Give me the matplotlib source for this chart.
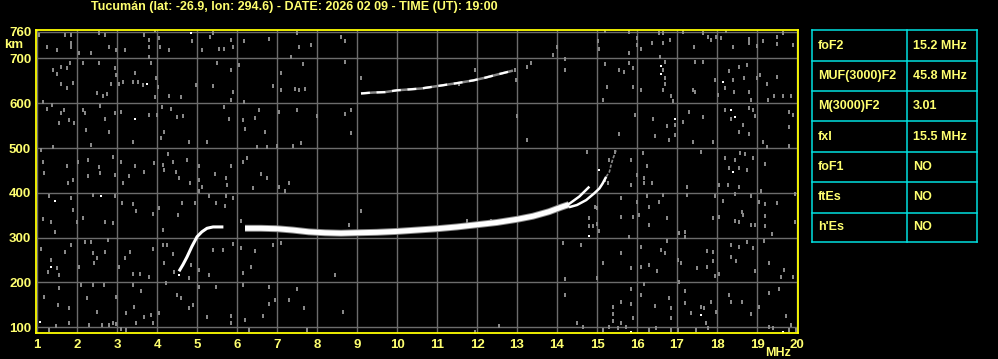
import matplotlib
matplotlib.use('Agg')
import matplotlib.pyplot as plt
from matplotlib import font_manager

names = {f.name for f in font_manager.fontManager.ttflist}
FONT = 'Liberation Sans Narrow' if 'Liberation Sans Narrow' in names else 'Liberation Sans'

# ---------------- data ----------------
title = "Tucumán (lat: -26.9, lon: 294.6) - DATE: 2026 02 09 - TIME (UT): 19:00"
freq_ticks = list(range(1, 21))
height_ticks = [100, 200, 300, 400, 500, 600, 700, 760]

# F2 trace - lower rising part
rise_f = [4.55, 4.65, 4.75, 4.87, 5.0, 5.12, 5.25, 5.4, 5.66]
rise_h = [225, 240, 257, 280, 302, 313, 321, 324, 324]

# F2 trace - main band
band_f = [6.2, 6.6, 7.0, 7.4, 7.8, 8.2, 8.6, 9.0, 9.5, 10.0, 10.5, 11.0, 11.5,
          12.0, 12.5, 13.0, 13.4, 13.8, 14.1, 14.3]
band_h = [321, 321, 320, 317, 313, 311, 310, 311, 312, 314, 317, 320, 324,
          329, 334, 341, 348, 358, 368, 374]

# upper (ordinary) branch near the critical frequency
obr_f = [14.25, 14.56, 14.81]
obr_h = [372, 392, 414]

# lower (extraordinary) branch
xbr_f = [14.3, 14.5, 14.73, 14.93, 15.06, 15.14, 15.23]
xbr_h = [368, 373, 384, 399, 410, 421, 436]

# faint tail of the extraordinary branch
tail_f = [15.23, 15.31, 15.35, 15.39, 15.48]
tail_h = [436, 447, 462, 474, 496]

# second-hop trace
hop2_f = [9.1, 9.4, 9.7, 10.0, 10.3, 10.6, 10.9, 11.2, 11.5, 11.9, 12.2, 12.5, 12.9]
hop2_h = [622, 624, 625, 629, 631, 633, 637, 641, 645, 651, 657, 664, 673]

# background noise (gray dots)
noise_f = [
    1.04, 1.25, 1.49, 1.7, 1.85, 1.85, 1.85, 2.06, 2.35, 2.54, 2.7, 2.79, 2.98, 3.2, 3.68, 3.79, 3.79, 3.81,
    3.95, 4.06, 4.08, 4.31, 4.87, 5.12, 5.33, 5.39, 5.56, 5.68, 5.85, 5.89,
    1.39, 1.49, 1.6, 1.75, 1.83, 1.89, 1.6, 1.74, 2.14, 2.5, 2.54, 2.64, 2.74, 2.85, 2.95, 2.98, 3.04, 3.16,
    3.39, 3.46, 3.52, 3.66, 3.85, 3.95, 3.98, 4.03, 4.31, 4.6, 4.98, 5.39, 5.5, 5.85, 5.89, 5.85,
    1.14, 1.24, 1.38, 1.6, 1.56, 1.68, 1.81, 1.93, 2.14, 2.2, 2.23, 2.35, 2.58, 2.7, 2.79, 2.96, 3.1, 3.39,
    3.81, 4.0, 4.13, 4.35, 4.18, 4.1, 4.49, 4.64, 4.81, 5.25, 5.68, 5.79,
    1.1, 1.14, 1.18, 1.41, 1.75, 1.77, 1.89, 2.02, 2.27, 2.27, 2.56, 2.58, 2.89, 2.95, 3.1, 3.16, 3.31, 3.46,
    3.68, 3.93, 4.14, 4.18, 4.39, 4.27, 4.48, 4.56, 4.74, 4.83, 5.04, 5.06, 5.12, 5.45, 5.73, 5.75, 5.85,
    1.29, 1.14, 1.35, 1.45, 1.85, 1.91, 1.99, 2.14, 2.39, 2.71, 2.89, 2.96, 3.13, 3.39, 3.48, 3.89, 4.04, 4.14,
    4.53, 4.62, 4.95, 5.04, 5.31, 5.48, 5.71, 5.73, 5.89,
    1.1, 1.35, 1.27, 1.49, 1.56, 1.7, 1.85, 2.04, 2.2, 2.35, 2.41, 2.43, 2.49, 2.7, 2.77, 3.06, 3.2, 3.33,
    3.39, 3.58, 3.81, 3.89, 4.14, 4.24, 4.17, 4.39, 4.43, 4.85, 4.81, 5.06, 5.29, 5.41, 5.64, 5.89,
    1.18, 1.54, 1.52, 1.79, 2.1, 2.24, 2.39, 2.5, 2.68, 2.89, 2.98, 3.23, 3.39, 3.43, 3.6, 3.68, 3.85, 3.89,
    4.06, 4.22, 4.5, 4.6, 4.81, 4.89, 5.06, 5.25, 5.48, 5.85, 5.85, 1.31, 1.48, 1.81, 2.31, 2.62, 2.79, 2.98,
    3.1, 3.23, 3.48,
    6.18, 6.79, 7.49, 7.54, 7.85, 7.35, 8.6, 8.7, 8.7, 6.06, 7.64, 7.1, 6.89, 7.1, 7.45, 7.56, 7.7, 9.1,
    6.18, 6.54, 7.04, 7.49, 8.7, 8.85, 8.0, 6.14, 6.45, 6.2, 6.7, 8.85, 7.6, 6.99, 7.39, 6.5, 6.75, 6.25,
    6.14, 6.6, 6.74, 7.31, 7.04, 6.39, 7.2, 9.1, 8.79, 6.1, 6.89, 6.45, 6.1, 7.1, 6.35, 6.14, 8.45, 6.14,
    6.79, 7.5, 6.95, 7.29, 6.79, 7.68, 8.64, 6.64, 6.2, 6.29, 7.74,
    15.2, 15.03, 15.06, 13.99, 13.89, 14.2, 15.2, 15.25, 15.14, 13.35, 13.24, 12.95, 12.97, 14.2, 11.95, 11.54,
    12.99, 13.24, 14.74, 15.45, 15.31, 15.2, 15.28, 11.74, 12.35, 14.94, 14.99, 14.79, 14.79, 14.89, 15.04,
    15.0, 14.14, 14.6, 15.14, 15.0, 14.2, 14.2, 14.5, 14.64, 15.14, 15.31, 15.39, 15.39, 15.39, 12.54, 11.95,
    15.81, 16.0, 16.0, 16.38, 16.54, 16.64, 16.64, 16.82, 17.14, 17.43, 17.64, 17.77, 17.85, 17.98, 18.1,
    18.23, 18.39, 18.81, 18.81, 18.99, 19.14, 19.5, 19.5, 19.64, 19.89, 15.81, 16.1, 16.58, 16.7,
    15.56, 15.68, 15.81, 15.89, 15.89, 16.1, 16.64, 16.7, 16.7, 16.64, 16.85, 16.91, 17.45, 17.64, 17.39,
    17.45, 17.95, 18.02, 18.31, 18.2, 18.39, 18.42, 18.56, 18.68, 18.74, 18.79, 18.85, 18.99, 19.08, 19.25,
    19.27, 19.5, 19.64, 19.85, 19.43,
    15.95, 16.39, 16.74, 16.96, 17.14, 16.46, 16.79, 16.96, 17.31, 17.39, 17.64, 17.89, 18.2, 18.35, 18.64,
    18.54, 18.79, 18.81, 18.89, 18.96, 19.14, 19.79, 19.89, 19.79, 19.79, 15.54,
    15.85, 16.14, 16.25, 16.18, 16.18, 16.38, 15.85, 15.99, 17.25, 17.6, 18.21, 18.45, 18.58, 18.7, 18.89,
    18.31, 18.56, 18.74, 18.06, 18.27, 18.54, 19.2, 19.1, 19.25,
    15.6, 16.0, 16.25, 16.64, 16.54, 16.29, 17.25, 17.96, 18.14, 18.45, 18.85, 19.06, 19.2, 19.5, 19.95,
    15.6, 15.89, 16.06, 16.29, 16.74, 17.06, 17.2, 17.2, 17.89, 18.04, 18.46, 18.54, 18.63, 18.66, 18.85,
    18.96, 19.2, 19.2, 19.38, 19.95,
    15.79, 16.1, 16.6, 16.7, 16.74, 15.6, 15.85, 16.1, 16.29, 16.5, 17.03, 17.1, 17.5, 17.74, 17.74, 17.89,
    17.89, 17.95, 18.06, 18.35, 18.35, 18.48, 18.56, 18.74, 18.89, 18.96, 19.18, 19.31, 19.6, 19.68, 19.89,
    15.85, 16.18, 16.1, 15.85, 15.6, 16.46, 16.81, 16.85, 16.85, 17.06, 17.2, 17.2, 17.35, 17.6, 17.68,
    17.72, 17.85, 17.98, 18.31, 18.35, 18.63, 18.85, 19.06, 19.29, 19.54, 19.72, 19.85, 15.89, 15.6,
    15.52, 15.73, 16.31, 16.48, 16.85, 17.02, 17.48, 17.77, 19.31, 19.39, 19.8, 19.98,
]
noise_h = [
    753, 725, 718, 753, 753, 734, 726, 713, 713, 758, 753, 726, 718, 718, 753, 741, 726, 704,
    763, 745, 725, 718, 740, 718, 749, 758, 721, 721, 741, 726,
    674, 665, 682, 678, 691, 645, 643, 635, 689, 624, 691, 617, 621, 643, 678, 663, 643, 648,
    648, 667, 648, 641, 689, 615, 656, 636, 617, 615, 641, 639, 689, 674, 626, 607,
    604, 587, 596, 578, 555, 585, 563, 555, 585, 578, 540, 507, 594, 566, 537, 578, 580, 514,
    574, 574, 592, 587, 537, 522, 569, 572, 514, 514, 591, 566,
    496, 470, 444, 502, 459, 421, 429, 470, 473, 438, 457, 444, 481, 440, 470, 421, 438, 459,
    447, 467, 462, 451, 470, 487, 447, 433, 473, 421, 460, 429, 414, 442, 433, 418, 459,
    392, 342, 334, 312, 388, 362, 334, 343, 395, 334, 332, 394, 377, 375, 360, 354, 366, 317,
    351, 377, 377, 405, 394, 377, 371, 394, 388,
    275, 250, 224, 232, 217, 269, 284, 235, 290, 290, 265, 243, 254, 267, 295, 235, 254, 269,
    220, 220, 213, 275, 284, 284, 243, 264, 224, 239, 209, 229, 217, 273, 273, 287,
    168, 187, 150, 142, 194, 165, 194, 135, 194, 109, 168, 131, 194, 146, 180, 124, 127, 109,
    131, 198, 172, 165, 142, 150, 191, 122, 191, 125, 109, 94, 103, 109, 105, 105, 105, 107,
    96, 94, 109,
    740, 744, 758, 726, 730, 704, 749, 740, 693, 685, 687, 667, 639, 630, 632, 630, 632, 657,
    604, 585, 581, 585, 576, 585, 572, 563, 567, 543, 537, 534, 512, 505, 505, 502, 502, 479,
    470, 442, 433, 423, 414, 410, 404, 360, 328, 337, 284, 270, 276, 289, 235, 222, 217, 194,
    191, 185, 162, 162, 152, 144, 134, 125, 116, 94, 94,
    761, 738, 721, 726, 708, 698, 688, 637, 607, 691, 680, 674, 652, 674, 674, 643,
    572, 518, 492, 492, 474, 429, 421, 337, 337, 369, 366, 343, 326, 325, 315,
    330, 289, 284, 244, 209, 207, 172, 110, 100, 95, 101, 146, 130, 113, 104, 90,
    760, 745, 730, 734, 758, 734, 756, 741, 760, 726, 758, 749, 741, 749, 745,
    761, 726, 743, 734, 728, 739, 749, 732, 758, 730, 713, 721, 704, 693,
    674, 670, 689, 678, 637, 630, 674, 656, 643, 630, 616, 605, 693, 693, 630,
    626, 652, 619, 671, 634, 652, 626, 680, 657, 685, 626, 607, 656, 663, 643,
    607, 659, 617, 617, 617,
    574, 566, 549, 552, 559, 527, 518, 529, 581, 514, 569, 514, 585, 564, 552,
    537, 531, 589, 585, 572, 514, 581, 574, 546, 505, 532,
    473, 488, 460, 433, 421, 421, 418, 440, 414, 492, 479, 473, 488, 487, 479,
    456, 456, 451, 418, 418, 414, 464, 404, 503,
    389, 380, 393, 395, 380, 369, 395, 392, 382, 397, 392, 380, 375, 378, 397,
    347, 347, 351, 328, 343, 311, 313, 302, 343, 347, 337, 334, 358, 351, 328,
    328, 349, 325, 308, 334,
    302, 280, 272, 265, 293, 266, 232, 235, 239, 226, 250, 243, 232, 271, 234, 269,
    247, 214, 220, 284, 258, 248, 280, 290, 276, 226, 293, 244, 213, 229, 213,
    185, 197, 172, 152, 157, 148, 165, 142, 120, 201, 180, 154, 131, 146, 142,
    109, 157, 135, 172, 157, 157, 130, 146, 176, 185, 125, 105, 120, 109,
    98, 101, 94, 98, 94, 94, 94, 98, 101, 98, 95, 94,
]

# brighter (white) noise dots
spark_f = [4.85, 3.75, 3.45, 1.45, 2.6, 1.35, 4.56, 1.08, 15.04, 14.81, 16.6, 16.6,
           18.14, 16.96, 18.35, 18.45, 18.39, 17.6, 15.85, 19.64]
spark_h = [758, 643, 565, 383, 392, 235, 217, 111, 451, 304, 684, 666,
           648, 566, 585, 570, 447, 127, 90, 90]

# parameter table
param_names = ["foF2", "MUF(3000)F2", "M(3000)F2", "fxI", "foF1", "ftEs", "h'Es"]
param_values = ["15.2 MHz", "45.8 MHz", "3.01", "15.5 MHz", "NO", "NO", "NO"]

# ---------------- styling ----------------
W, H = 998, 359
BG = 'black'
YEL = '#ffff00'
TXT = '#ffff70'
GRID = '#6c6c6c'
NOISE = '#888888'
CYAN = '#00e0e0'
FS = 9.0

# small vertical streak marker used for the noise
STREAK = [(-0.3, -1.0), (0.3, -1.0), (0.3, 1.0), (-0.3, 1.0), (-0.3, -1.0)]


def fx(x):
    return x / W


def fy(y):
    return 1 - y / H


fig = plt.figure(figsize=(W / 100, H / 100), dpi=100, facecolor=BG)
ax = fig.add_axes([fx(36), fy(333.3), (798 - 36) / W, (333.3 - 30) / H])
ax.set_facecolor(BG)
ax.set_xlim(0.975, 20.025)
ax.set_ylim(86.6, 763.6)

ax.set_xticks(freq_ticks)
ax.set_xticklabels([str(t) for t in freq_ticks])
ax.set_yticks(height_ticks)
ax.set_yticklabels([str(t) for t in height_ticks])
ax.tick_params(axis='both', length=0, colors=TXT, labelsize=FS + 0.5)
ax.tick_params(axis='x', pad=4)
ax.tick_params(axis='y', pad=3.5)
for lab in ax.get_xticklabels() + ax.get_yticklabels():
    lab.set_fontfamily(FONT)
    lab.set_fontweight('bold')
    lab.set_color(TXT)

ax.grid(True, color=GRID, linewidth=1.0, zorder=0)
ax.set_axisbelow(True)
for sp in ax.spines.values():
    sp.set_color(YEL)
    sp.set_linewidth(1.3)
    sp.set_zorder(6)

# noise
ax.plot(noise_f, noise_h, linestyle='none', marker=STREAK, markersize=2.6,
        markerfacecolor=NOISE, markeredgewidth=0, zorder=1)
ax.plot(spark_f, spark_h, linestyle='none', marker='s', markersize=1.5,
        markerfacecolor='white', markeredgewidth=0, zorder=1.5)

# traces
ax.plot(rise_f, rise_h, color='white', lw=2.2, solid_capstyle='butt', zorder=3)
ax.plot(band_f, band_h, color=NOISE, lw=5.0, solid_capstyle='butt', zorder=2.5)
ax.plot(band_f, band_h, color='white', lw=3.6, solid_capstyle='butt', zorder=3)
ax.plot(obr_f, obr_h, color='white', lw=1.8, solid_capstyle='butt', zorder=3)
ax.plot(xbr_f, xbr_h, color='white', lw=1.8, solid_capstyle='butt', zorder=3)
ax.plot(tail_f, tail_h, color=NOISE, lw=1.2, linestyle=(0, (2, 1)), zorder=3)
ax.plot(hop2_f, hop2_h, color=NOISE, lw=1.8, solid_capstyle='butt', zorder=2.5)
ax.plot(hop2_f, hop2_h, color='white', lw=1.6, linestyle=(0, (4, 3)),
        dash_capstyle='butt', zorder=3)

# text around the axes
fig.text(fx(294), fy(7), title, color=TXT, fontsize=FS, fontweight='bold',
         family=FONT, ha='center', va='center')
fig.text(fx(14), fy(45), 'km', color=TXT, fontsize=FS + 0.5, fontweight='bold',
         family=FONT, ha='center', va='center')
fig.text(fx(778), fy(352.5), 'MHz', color=TXT, fontsize=FS, fontweight='bold',
         family=FONT, ha='center', va='center')

# parameter table
x0, x1, x2 = 812.3, 907, 977.3
row_y = [30.3, 61.3, 91.3, 121.3, 151.7, 182.3, 212.7, 242.3]
for y in row_y:
    fig.add_artist(plt.Line2D([fx(x0), fx(x2)], [fy(y), fy(y)], color=CYAN, lw=1.1))
for x in (x0, x1, x2):
    fig.add_artist(plt.Line2D([fx(x), fx(x)], [fy(row_y[0]), fy(row_y[-1])], color=CYAN, lw=1.1))
for i, (n, v) in enumerate(zip(param_names, param_values)):
    yc = (row_y[i] + row_y[i + 1]) / 2
    fig.text(fx(818), fy(yc), n, color=TXT, fontsize=FS, fontweight='bold',
             family=FONT, ha='left', va='center')
    fig.text(fx(913), fy(yc), v, color=TXT, fontsize=FS, fontweight='bold',
             family=FONT, ha='left', va='center')

fig.savefig('out.png', dpi=100, facecolor=BG)
